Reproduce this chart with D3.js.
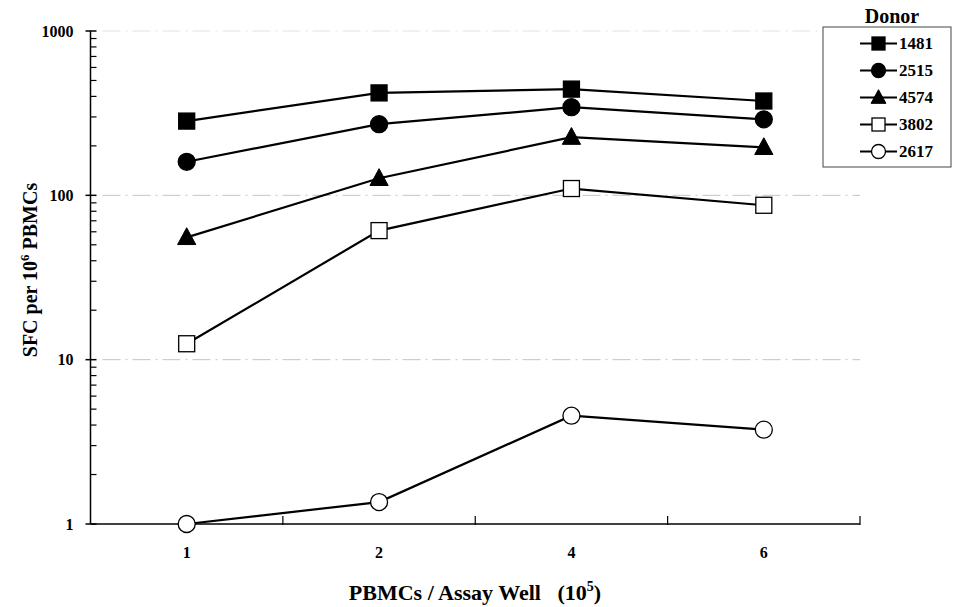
<!DOCTYPE html>
<html><head><meta charset="utf-8">
<script src="https://cdn.jsdelivr.net/npm/d3@7"></script>
<style>body{margin:0;background:#fff}svg{display:block}</style>
</head><body><svg id="c" width="957" height="607" font-family="'Liberation Serif', Tinos, 'Times New Roman', 'DejaVu Serif', serif" font-weight="bold"></svg>
<script>
const categories = ["1","2","4","6"];
const donors = ["1481","2515","4574","3802","2617"];
const v1481 = [283, 420, 443, 375];
const v2515 = [160, 271, 344, 290];
const v4574 = [55.5, 127, 226, 196];
const v3802 = [12.5, 61, 110, 87];
const v2617 = [1.0, 1.36, 4.56, 3.75];
const yTicks = [1, 10, 100, 1000];
const seriesValues = [v1481, v2515, v4574, v3802, v2617];
const markerTypes = ["squareFilled","circleFilled","triangleFilled","squareOpen","circleOpen"];

(function(){
const svg = d3.select("#c");
const pl = 90.5, pr = 860, pt = 31, pb = 524;
const x = d3.scaleBand().domain(categories).range([pl, pr]);
const y = d3.scaleLog().domain([1, 1000]).range([pb, pt]);

// gridlines
svg.append("g").selectAll("line").data([10, 100, 1000]).join("line")
  .attr("x1", pl + 12).attr("x2", pr).attr("y1", d => y(d)).attr("y2", d => y(d))
  .attr("stroke", d => d === 1000 ? "#e2e2e2" : "#c4c4c4").attr("stroke-width", 1)
  .attr("stroke-dasharray", "18,5,2,5");

// y axis
const yAxisG = svg.append("g");
yAxisG.append("line").attr("x1", pl).attr("x2", pl).attr("y1", pt).attr("y2", pb).attr("stroke", "#000").attr("stroke-width", 1.5);
const minor = [];
for (let dec = 1; dec < 1000; dec *= 10) for (let k = 2; k <= 9; k++) minor.push(dec * k);
yAxisG.selectAll(".mn").data(minor).join("line")
  .attr("x1", pl).attr("x2", pl + 6).attr("y1", d => y(d)).attr("y2", d => y(d))
  .attr("stroke", "#000").attr("stroke-width", 1.2);
yAxisG.selectAll(".mj").data(yTicks).join("line")
  .attr("x1", pl - 5).attr("x2", pl + 6).attr("y1", d => y(d)).attr("y2", d => y(d))
  .attr("stroke", "#000").attr("stroke-width", 1.5);
yAxisG.selectAll("text").data(yTicks).join("text")
  .attr("x", pl - 17).attr("y", d => y(d)).attr("dy", "0.35em")
  .attr("text-anchor", "end").attr("font-size", 16).text(d => d);

// x axis
const xAxisG = svg.append("g");
xAxisG.append("line").attr("x1", pl).attr("x2", pr).attr("y1", pb).attr("y2", pb).attr("stroke", "#000").attr("stroke-width", 1.5);
const bounds = categories.map(c => x(c) + x.bandwidth());
xAxisG.selectAll(".xt").data(bounds).join("line")
  .attr("x1", d => d).attr("x2", d => d).attr("y1", pb - 8).attr("y2", pb + 1)
  .attr("stroke", "#000").attr("stroke-width", 1.2);
xAxisG.selectAll("text").data(categories).join("text")
  .attr("x", d => x(d) + x.bandwidth() / 2).attr("y", 558)
  .attr("text-anchor", "middle").attr("font-size", 16).text(d => d);

// titles
const xt = svg.append("text").attr("x", 475).attr("y", 600).attr("text-anchor", "middle").attr("font-size", 22);
xt.append("tspan").text("PBMCs / Assay Well\u00a0\u00a0\u00a0(10");
xt.append("tspan").attr("font-size", 14).attr("dy", -9).text("5");
xt.append("tspan").attr("dy", 9).text(")");

const yt = svg.append("text").attr("transform", "translate(37,270) rotate(-90)").attr("text-anchor", "middle").attr("font-size", 20);
yt.append("tspan").text("SFC per 10");
yt.append("tspan").attr("font-size", 13).attr("dy", -8).text("6");
yt.append("tspan").attr("dy", 8).text(" PBMCs");

// markers
function drawMarker(g, type, cx, cy, s) {
  if (type.startsWith("square")) {
    g.append("rect").attr("x", cx - s/2).attr("y", cy - s/2).attr("width", s).attr("height", s)
      .attr("fill", type.endsWith("Filled") ? "#000" : "#fff").attr("stroke", "#000").attr("stroke-width", 1.3);
  } else if (type.startsWith("circle")) {
    g.append("circle").attr("cx", cx).attr("cy", cy).attr("r", s / 2 + 0.5)
      .attr("fill", type.endsWith("Filled") ? "#000" : "#fff").attr("stroke", "#000").attr("stroke-width", 1.3);
  } else {
    g.append("path").attr("d", `M${cx},${cy - s*0.6}L${cx + s*0.57},${cy + s*0.45}L${cx - s*0.57},${cy + s*0.45}Z`)
      .attr("fill", "#000").attr("stroke", "#000").attr("stroke-width", 1);
  }
}

const line = d3.line().x((d, i) => x(categories[i]) + x.bandwidth() / 2).y(d => y(d));
seriesValues.forEach((vals, si) => {
  const g = svg.append("g");
  g.append("path").attr("d", line(vals)).attr("fill", "none").attr("stroke", "#000").attr("stroke-width", 2.2);
  vals.forEach((v, i) => drawMarker(g, markerTypes[si], x(categories[i]) + x.bandwidth() / 2, y(v), 16));
});

// legend
const lg = svg.append("g");
lg.append("rect").attr("x", 823).attr("y", 27).attr("width", 128).attr("height", 140)
  .attr("fill", "#fff").attr("stroke", "#444").attr("stroke-width", 1);
lg.append("text").attr("x", 892).attr("y", 23).attr("text-anchor", "middle").attr("font-size", 20).text("Donor");
donors.forEach((dn, i) => {
  const yy = 43.5 + i * 27;
  lg.append("line").attr("x1", 860).attr("x2", 897).attr("y1", yy).attr("y2", yy).attr("stroke", "#000").attr("stroke-width", 2.2);
  drawMarker(lg, markerTypes[i], 878.5, yy, 13);
  lg.append("text").attr("x", 899).attr("y", yy).attr("dy", "0.35em").attr("font-size", 17).text(dn);
});
})();
</script></body></html>
